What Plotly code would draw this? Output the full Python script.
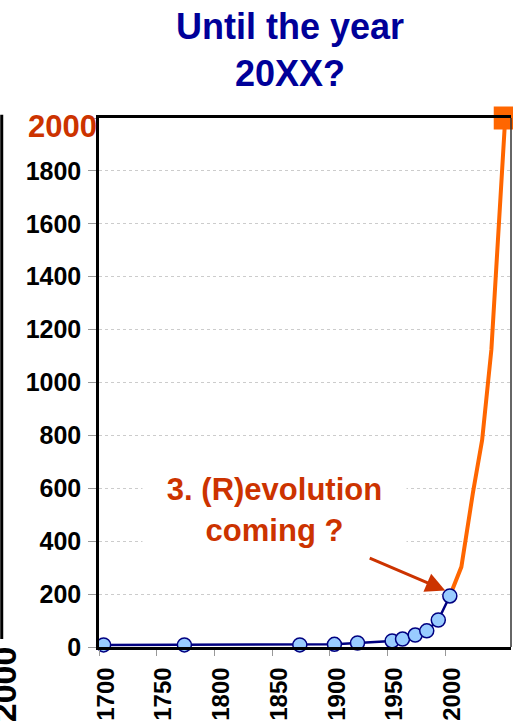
import plotly.graph_objects as go

# measured history (blue) and projection (orange)
years_hist = [1704, 1774, 1874, 1904, 1924, 1954, 1963, 1974, 1984, 1994, 2004]
values_hist = [8, 8, 8, 10, 15, 23, 30, 45, 61, 102, 193]

years_proj = [2004, 2014, 2024, 2032, 2040, 2047, 2052]
values_proj = [193, 303, 583, 783, 1124, 1604, 2000]

x_ticks = [1700, 1750, 1800, 1850, 1900, 1950, 2000]
y_ticks = [0, 200, 400, 600, 800, 1000, 1200, 1400, 1600, 1800, 2000]
y_ticktext = [str(v) for v in y_ticks[:-1]] + [""]

FONT = "Liberation Sans, Arial, Helvetica, sans-serif"
NAVY = "#000080"
ORANGE = "#FF6600"
RED = "#CC3300"

fig = go.Figure()

fig.add_trace(go.Scatter(
    x=years_proj, y=values_proj, mode="lines",
    line=dict(color=ORANGE, width=4),
    cliponaxis=False, showlegend=False,
))
fig.add_trace(go.Scatter(
    x=[years_proj[-1]], y=[values_proj[-1]], mode="markers",
    marker=dict(symbol="square", size=23, color=ORANGE),
    cliponaxis=False, showlegend=False,
))
fig.add_trace(go.Scatter(
    x=years_hist, y=values_hist, mode="lines+markers",
    line=dict(color=NAVY, width=2.5),
    marker=dict(size=14, color="#99CCFF", line=dict(color=NAVY, width=1.5)),
    cliponaxis=False, showlegend=False,
))

fig.update_layout(
    width=513, height=728,
    margin=dict(l=99, r=2, t=118, b=81),
    paper_bgcolor="white", plot_bgcolor="white",
    font=dict(family=FONT, color="black"),
    title=dict(
        text="Until the year<br>20XX?",
        font=dict(family=FONT, size=36, color="#000099", weight="bold"),
        xref="container", x=290 / 513, xanchor="center",
        yref="container", y=1 - 39 / 728, yanchor="middle",
    ),
    xaxis=dict(
        range=[1700, 2057], tickvals=x_ticks, tickangle=-90,
        tickfont=dict(size=24, weight="bold", color="black"),
        showgrid=False, zeroline=False,
        showline=True, linecolor="black", linewidth=2.5, mirror=True,
        ticks="outside", ticklen=6, tickcolor="#999999",
        ticklabelstandoff=2, ticklabelshift=7,
    ),
    yaxis=dict(
        range=[0, 2000], tickvals=y_ticks, ticktext=y_ticktext,
        tickfont=dict(size=25, weight="bold", color="black"),
        showgrid=True, gridcolor="#cccccc", griddash="dot", gridwidth=1,
        zeroline=False,
        showline=True, linecolor="black", linewidth=2.5,
        ticks="outside", ticklen=8, tickcolor="#999999",
        ticklabelstandoff=2,
    ),
    shapes=[
        # thin right border
        dict(type="line", xref="paper", yref="paper", x0=1, x1=1, y0=0, y1=1,
             line=dict(color="#333333", width=1.5)),
        # edge of the neighbouring panel
        dict(type="line", xref="paper", yref="paper",
             x0=-97.5 / 413, x1=-97.5 / 413, y0=8 / 529, y1=1.006,
             line=dict(color="black", width=3)),
    ],
    annotations=[
        dict(text="2000", xref="paper", yref="paper",
             x=0, y=(647 - 126) / 529, xanchor="right", yanchor="middle",
             showarrow=False, font=dict(size=31, color=RED, weight="bold")),
        dict(text="3. (R)evolution<br>coming ?", x=1852, y=518,
             showarrow=False, bgcolor="white", borderpad=0,
             width=263, height=104, align="center",
             font=dict(size=31, color=RED, weight="bold")),
        dict(text="", x=2000, y=214, ax=-77, ay=-33,
             showarrow=True, arrowhead=2, arrowsize=1.3, arrowwidth=3,
             arrowcolor=RED),
        dict(text="2000", xref="paper", yref="paper",
             x=-95 / 413, y=(647 - 684) / 529, xanchor="center", yanchor="middle",
             textangle=-90, showarrow=False,
             font=dict(size=34, color="black", weight="bold")),
    ],
)

fig.write_html("out.html", config={"displayModeBar": False},
               post_script="document.body.style.margin='0';")
